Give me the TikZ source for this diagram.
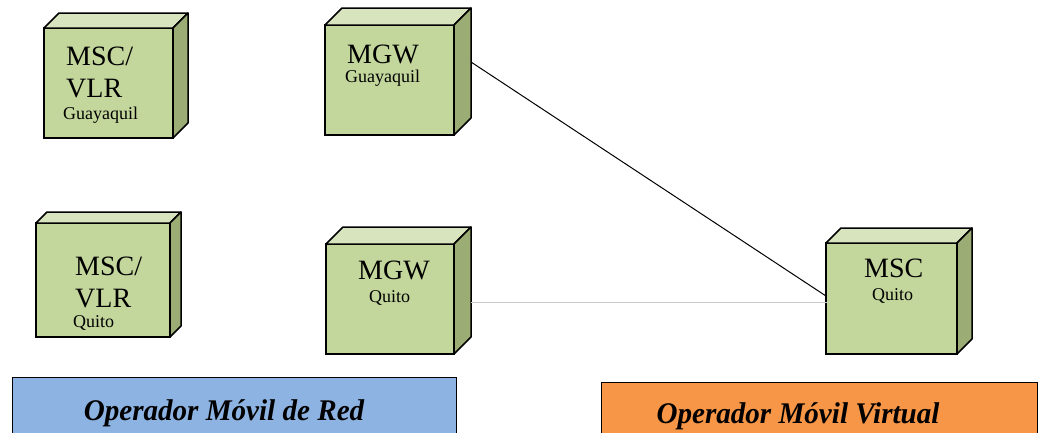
\documentclass[tikz,border=0pt]{standalone}
\usepackage{fontspec}
\setmainfont{Liberation Serif}
\usetikzlibrary{calc}
\definecolor{facefront}{HTML}{C3D69B}
\definecolor{facetop}{HTML}{D7E4BD}
\definecolor{faceside}{HTML}{9BAD74}
\definecolor{netblue}{HTML}{8DB3E2}
\definecolor{virtorange}{HTML}{F79646}
\tikzset{
  front/.style={draw=black, line width=1.5pt, fill=facefront, rectangle, inner sep=0pt, outer sep=0pt},
  topface/.style={draw=black, line width=1.5pt, fill=facetop, line join=round},
  sideface/.style={draw=black, line width=1.5pt, fill=faceside, line join=round},
  big/.style={font=\fontsize{28}{28}\selectfont, anchor=base west, inner sep=0pt, text depth=0pt},
  small/.style={font=\fontsize{18}{18}\selectfont, anchor=base west, inner sep=0pt, text height=9pt},
  opbox/.style={draw=black, line width=1pt},
  optext/.style={font=\fontsize{30}{30}\selectfont\bfseries\itshape, inner sep=0pt, anchor=base},
  link/.style={draw=black, line width=1pt},
  faint/.style={draw=black!20, line width=1pt}
}
% #1 name, #2 left, #3 top, #4 width, #5 height, #6 depth
\newcommand\cubenode[6]{%
  \node[front, minimum width=#4pt, minimum height=#5pt, anchor=north west] (#1) at (#2,#3) {};
  \path[topface] (#1.north west) -- ++(#6,-#6) -- ++(#4,0) -- (#1.north east) -- cycle;
  \path[sideface] (#1.north east) -- ++(#6,-#6) -- ++(0,#5) -- (#1.south east) -- cycle;
}
\begin{document}
\begin{tikzpicture}[x=1pt,y=-1pt]
\useasboundingbox (0,0) rectangle (1041,432);
\clip (0,0) rectangle (1041,432);

\coordinate (gEnd) at (828,296);
\coordinate (qEnd) at (830,302);

\cubenode{mscg}{44}{28}{129}{110}{15}
\cubenode{mscq}{36}{223}{134}{114}{11}
\cubenode{mgwg}{325}{25}{129}{110}{17}
\cubenode{mgwq}{326}{244}{128}{110}{17}
\cubenode{mscv}{826}{243}{131}{111}{15}

% links between the gateways and the virtual operator's MSC
\draw[link] ([shift={(17,-18)}]mgwg.east) -- (mscv.west |- gEnd);
\draw[faint] ([shift={(17,3)}]mgwq.east) -- ([xshift=3pt]mscv.west |- qEnd);

% labels
\node[big] (mscgA) at (66,65) {MSC/};
\node[big] (mscgB) at (66,97) {VLR};
\node[small] (mscgC) at (63,119) {Guayaquil};

\node[big] (mscqA) at (75,275) {MSC/};
\node[big] (mscqB) at (75,307) {VLR};
\node[small] (mscqC) at (73,327) {Quito};

\node[big] (mgwgA) at (347,63) {MGW};
\node[small] (mgwgB) at (345,82) {Guayaquil};

\node[big] (mgwqA) at (358,279) {MGW};
\node[small] (mgwqB) at (369,302) {Quito};

\node[big] (mscvA) at (864,277) {MSC};
\node[small] (mscvB) at (872,300) {Quito};

% operator banners
\path[opbox, fill=netblue] (12,377) rectangle (456,450);
\node[optext] (omr) at (224,420) {\scalebox{0.97}[1]{Operador Móvil de Red}};
\path[opbox, fill=virtorange] (601,382) rectangle (1037,450);
\node[optext] (omv) at (798,423) {\scalebox{0.97}[1]{Operador Móvil Virtual}};
\end{tikzpicture}
\end{document}
